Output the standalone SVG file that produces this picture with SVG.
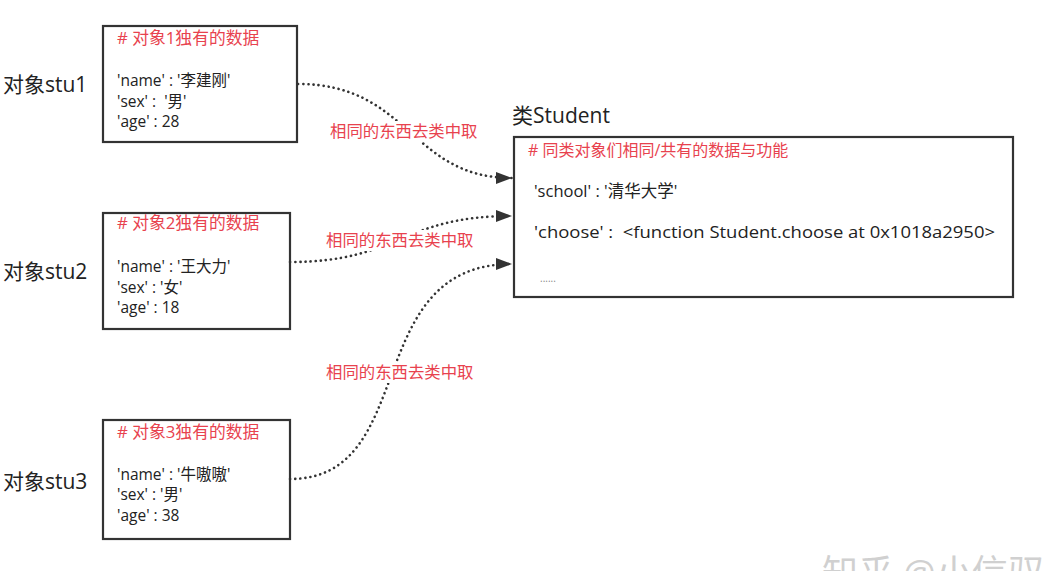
<svg xmlns="http://www.w3.org/2000/svg" width="1052" height="571" viewBox="0 0 1052 571">
<style>
text{font-family:"Open Sans","Noto Sans CJK SC",sans-serif;white-space:pre;}
.box{fill:#fff;stroke:#333;stroke-width:2.2;}
.t{font-size:15.5px;fill:#222;}
.ct{font-size:16.5px;fill:#222;}
.h{font-size:16.8px;fill:#e8424e;}
.ch{font-size:16px;fill:#e8424e;}
.lbl{font-size:21px;fill:#222;}
.conn{fill:none;stroke:#333;stroke-width:2.6;stroke-dasharray:0.1 5;stroke-linecap:round;}
.cl{font-size:16.4px;fill:#e8424e;}
.bg{fill:#fff;}
</style>
<defs>
<marker id="ah" markerWidth="16" markerHeight="12" refX="16" refY="6" orient="auto" markerUnits="userSpaceOnUse">
<path d="M0,0 L16,6 L0,12 Z" fill="#333"/>
</marker>
</defs>
<rect width="1052" height="571" fill="#fff"/>
<g id="stu1">
<text class="lbl" x="3" y="92">对象stu1</text>
<rect class="box" x="103" y="26" width="194" height="116"/>
<text class="h" x="117" y="44"># 对象1独有的数据</text>
<text class="t" x="117" y="86">'name' : '李建刚'</text>
<text class="t" x="117" y="107">'sex' :  '男'</text>
<text class="t" x="117" y="127">'age' : 28</text>
</g>
<g id="stu2">
<text class="lbl" x="3" y="279">对象stu2</text>
<rect class="box" x="103" y="213" width="187" height="116"/>
<text class="h" x="117" y="229"># 对象2独有的数据</text>
<text class="t" x="117" y="272">'name' : '王大力'</text>
<text class="t" x="117" y="293">'sex' : '女'</text>
<text class="t" x="117" y="313">'age' : 18</text>
</g>
<g id="stu3">
<text class="lbl" x="3" y="489">对象stu3</text>
<rect class="box" x="103" y="420" width="187" height="119"/>
<text class="h" x="117" y="438"># 对象3独有的数据</text>
<text class="t" x="117" y="480">'name' : '牛嗷嗷'</text>
<text class="t" x="117" y="500">'sex' : '男'</text>
<text class="t" x="117" y="521">'age' : 38</text>
</g>
<g id="Student">
<text class="lbl" x="512" y="123">类Student</text>
<rect class="box" x="514" y="137" width="499" height="160"/>
<text class="ch" x="528" y="156"># 同类对象们相同/共有的数据与功能</text>
<text class="ct" x="534" y="197">'school' : '清华大学'</text>
<text class="ct" x="534" y="238" textLength="461" lengthAdjust="spacingAndGlyphs">'choose' :  &lt;function Student.choose at 0x1018a2950&gt;</text>
<text x="540" y="282" font-size="10" fill="#888">......</text>
</g>
<g id="connectors">
<path class="conn" d="M298,84 C410,84 410,178 512,178" marker-end="url(#ah)"/>
<path class="conn" d="M290,262 C400,262 400,216 512,216" marker-end="url(#ah)"/>
<path class="conn" d="M290,479 C420,479 360,264 512,264" marker-end="url(#ah)"/>
<rect class="bg" x="328" y="121" width="152" height="21"/>
<rect class="bg" x="324" y="230" width="156" height="21"/>
<rect class="bg" x="324" y="362" width="156" height="21"/>
<text class="cl" x="330" y="137">相同的东西去类中取</text>
<text class="cl" x="326" y="246">相同的东西去类中取</text>
<text class="cl" x="326" y="378">相同的东西去类中取</text>
</g>
<text x="822" y="586" font-size="36" fill="#d0d0d0">知乎 @小信驭</text>
</svg>
